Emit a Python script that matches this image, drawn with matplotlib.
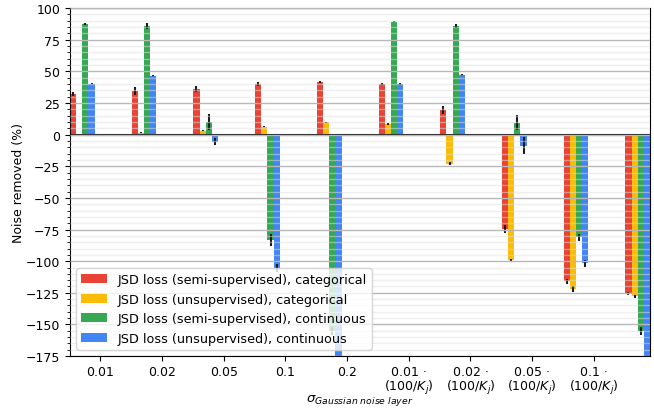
import numpy as np
import matplotlib

matplotlib.use("Agg")
import matplotlib.pyplot as plt
from matplotlib.ticker import MultipleLocator

# noise levels (10 groups, the last tick falls outside the view)
tick_labels = [
    "0.01",
    "0.02",
    "0.05",
    "0.1",
    "0.2",
    "0.01 ·\n(100/$K_j$)",
    "0.02 ·\n(100/$K_j$)",
    "0.05 ·\n(100/$K_j$)",
    "0.1 ·\n(100/$K_j$)",
    "0.2 ·\n(100/$K_j$)",
]

series_labels = [
    "JSD loss (semi-supervised), categorical",
    "JSD loss (unsupervised), categorical",
    "JSD loss (semi-supervised), continuous",
    "JSD loss (unsupervised), continuous",
]

semi_cat = [32.2, 34.6, 36.2, 40.0, 41.4, 40.0, 19.5, -74.6, -116.0, -125.5]
semi_cat_err = [1.5, 3.0, 2.5, 1.5, 1.0, 1.0, 3.0, 3.0, 2.0, 1.5]
unsup_cat = [0.3, 1.3, 3.0, 6.3, 9.8, 8.0, -22.9, -99.1, -122.0, -127.9]
unsup_cat_err = [0.3, 0.4, 0.5, 0.5, 0.5, 0.8, 1.0, 1.0, 2.0, 1.0]
semi_cont = [87.5, 86.0, 10.0, -83.3, -155.0, 89.2, 86.0, 9.3, -81.2, -155.0]
semi_cont_err = [0.8, 2.5, 6.5, 5.0, 3.0, 0.5, 1.5, 6.0, 3.0, 3.0]
unsup_cont = [40.1, 46.4, -5.5, -105.4, -185.0, 40.0, 47.2, -8.7, -101.8, -185.0]
unsup_cont_err = [0.5, 0.5, 3.0, 3.0, 3.0, 0.5, 0.5, 6.5, 3.0, 3.0]

colors = ["#EA4335", "#FBBC05", "#34A853", "#4285F4"]

values = [semi_cat, unsup_cat, semi_cont, unsup_cont]
errors = [semi_cat_err, unsup_cat_err, semi_cont_err, unsup_cont_err]

plt.rcParams["font.size"] = 9

fig = plt.figure(figsize=(6.54, 4.10), dpi=100)
ax = fig.add_axes([0.107, 0.129, 0.887, 0.849])

x = np.arange(len(tick_labels))
width = 0.1
for k, (vals, errs) in enumerate(zip(values, errors)):
    ax.bar(
        x + k * width,
        vals,
        width,
        yerr=errs,
        color=colors[k],
        label=series_labels[k],
        error_kw=dict(ecolor="0.1", elinewidth=1.5, capsize=0),
    )

ax.axhline(0, color="0.1", lw=1.5)

ax.set_xticks(x + 0.44)
ax.set_xticklabels(tick_labels, linespacing=1.0)
ax.tick_params(axis="x", pad=3)
ax.set_xlim(-width / 2, x[-1] + 3.5 * width)
ax.set_ylim(-175, 100)
ax.yaxis.set_major_locator(MultipleLocator(25))
ax.yaxis.set_minor_locator(MultipleLocator(5))

ax.set_axisbelow(False)
ax.grid(axis="y", which="major", color="0.72", lw=1.0)
ax.grid(axis="y", which="minor", color="0.87", lw=1.0, alpha=0.5)

ax.set_ylabel("Noise removed (%)", fontsize=9, labelpad=0.5)
ax.set_xlabel(r"$\sigma_{Gaussian\ noise\ layer}$", fontsize=9.5)
ax.xaxis.set_label_coords(0.5, -0.125)
ax.xaxis.label.set_va("center")

ax.legend(loc="lower left", fontsize=9.2)

fig.savefig("out.png", dpi=100)
